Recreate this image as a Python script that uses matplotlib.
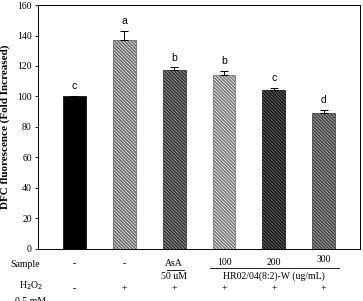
import numpy as np
import matplotlib.pyplot as plt

values = [100, 137.3, 117.6, 114.4, 104, 89.2]
errors = [0.6, 5.8, 1.5, 2.6, 1.6, 2.2]
letters = ['c', 'a', 'b', 'b', 'c', 'd']
sample_row = ['-', '-', 'AsA', '100', '200', '300']
h2o2_row = ['-', '+', '+', '+', '+', '+']
faces = ['black', '#d8d8d8', '#8a8a8a', '#e0e0e0', '#5a5a5a', '#9a9a9a']
hatch_cols = ['black', '#5a5a5a', '#2a2a2a', '#6a6a6a', '#111111', '#3a3a3a']

serif = 'Liberation Serif'
plt.rcParams['font.family'] = serif
plt.rcParams['hatch.linewidth'] = 0.9

fig = plt.figure(figsize=(3.63, 3.01), dpi=100)
ax = fig.add_axes([0.105, 0.174, 0.887, 0.809])

x = np.arange(1, 7)
for i in range(6):
    ax.bar(x[i], values[i], width=0.46, color=faces[i], edgecolor=hatch_cols[i],
           hatch=None if i == 0 else '\\' * 10, linewidth=0.5, zorder=2)
    ax.errorbar(x[i], values[i], yerr=[[0], [errors[i]]], fmt='none',
                ecolor='black', elinewidth=0.7, capsize=3, capthick=0.7, zorder=3)
    ax.text(x[i], values[i] + errors[i] + 3, letters[i], ha='center', va='bottom',
            fontsize=7.5, family='Liberation Sans')

ax.set_xlim(0.27, 6.73)
ax.set_ylim(0, 160)
ax.set_yticks(np.arange(0, 161, 20))
ax.set_xticks([])
ax.tick_params(axis='y', labelsize=7, length=2.5, width=0.6, direction='out', pad=2)
for s in ax.spines.values():
    s.set_linewidth(0.7)
ax.set_ylabel('DFC fluorescence (Fold Increased)', fontsize=8, fontweight='bold', labelpad=5)

tr = ax.get_xaxis_transform()
for i in range(6):
    yy = -0.055 if i > 2 else -0.06
    if i == 5:
        yy = -0.045
    ax.text(x[i], yy, sample_row[i], transform=tr, ha='center', va='center', fontsize=7, clip_on=False)
    ax.text(x[i], -0.165, h2o2_row[i], transform=tr, ha='center', va='center', fontsize=7, clip_on=False)

ax.text(3, -0.115, '50 uM', transform=tr, ha='center', va='center', fontsize=7)
ax.text(5, -0.115, 'HR02/04(8:2)-W (ug/mL)', transform=tr, ha='center', va='center', fontsize=7)
ax.plot([2.85, 3.2], [-0.087, -0.087], transform=tr, color='black', lw=0.6, clip_on=False)
ax.plot([3.72, 6.3], [-0.08, -0.08], transform=tr, color='black', lw=0.6, clip_on=False)

fig.text(0.07, 0.12, 'Sample', ha='center', va='center', fontsize=7)
fig.text(0.085, 0.05, 'H$_2$O$_2$', ha='center', va='center', fontsize=7)
fig.text(0.085, -0.003, '0.5 mM', ha='center', va='center', fontsize=7)

fig.savefig('out.png', dpi=100)
